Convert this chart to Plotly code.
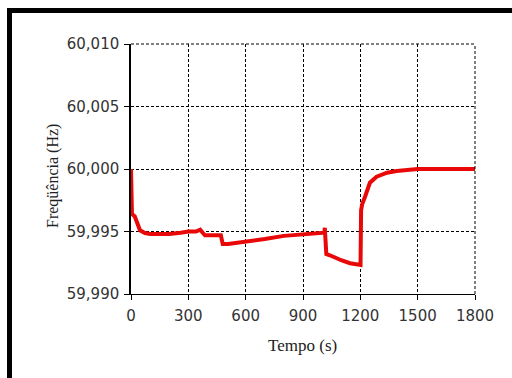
import plotly.graph_objects as go

# Data
tempo = [0, 0.5, 5, 20, 30, 47, 73, 100, 141, 200, 260, 300, 340, 362, 375, 387,
         470, 476, 480, 508, 560, 620, 700, 800, 900, 1012, 1014, 1018, 1022, 1040,
         1067, 1100, 1146, 1198, 1201, 1204, 1210, 1225, 1250, 1285, 1340, 1390,
         1450, 1500, 1800]
freq = [60.0000, 59.9966, 59.9964, 59.9962, 59.9957, 59.9951, 59.99488, 59.9948,
        59.9948, 59.9948, 59.9949, 59.9950, 59.9950, 59.99515, 59.9949, 59.9947,
        59.9947, 59.9942, 59.9940, 59.9940, 59.9941, 59.9942, 59.9944, 59.99465,
        59.9948, 59.9949, 59.9953, 59.99325, 59.9932, 59.9931, 59.99288, 59.9927,
        59.99246, 59.99232, 59.99232, 59.9967, 59.9972, 59.9978, 59.9989, 59.99938,
        59.9997, 59.99984, 59.99995, 60.0000, 60.0000]

x_ticks = [0, 300, 600, 900, 1200, 1500, 1800]
y_ticks = [59.990, 59.995, 60.000, 60.005, 60.010]
y_tick_text = ["59,990", "59,995", "60,000", "60,005", "60,010"]

W, H = 512, 378
L, R, T, B = 131, 475, 44, 294

fig = go.Figure()
fig.add_trace(go.Scatter(x=tempo, y=freq, mode="lines",
                         line=dict(color="rgb(232,8,8)", width=4),
                         showlegend=False, hoverinfo="skip"))

tickfont = dict(family="DejaVu Sans", size=15, color="#333")
fig.update_layout(
    width=W, height=H,
    margin=dict(l=L, r=W - R, t=T, b=H - B, pad=0),
    paper_bgcolor="white", plot_bgcolor="white",
    xaxis=dict(range=[0, 1800], tickvals=x_ticks, ticks="outside", ticklen=5,
               tickcolor="black", showline=True, linecolor="black", linewidth=1.2,
               showgrid=True, gridcolor="black", griddash="3px,2px", gridwidth=1,
               zeroline=False, tickfont=tickfont, ticklabelstandoff=3),
    yaxis=dict(range=[59.990, 60.010], tickvals=y_ticks, ticktext=y_tick_text,
               ticks="outside", ticklen=5, tickcolor="black",
               showline=True, linecolor="black", linewidth=1.5,
               showgrid=True, gridcolor="black", griddash="3px,2px", gridwidth=1,
               zeroline=False, tickfont=tickfont, ticklabelstandoff=2),
)

def px(xp):
    return (xp - L) / (R - L)

def py(yp):
    return (B - yp) / (B - T)

# dashed top and right borders of the plot area
fig.add_shape(type="line", xref="paper", yref="paper", x0=0, x1=1, y0=1, y1=1,
              line=dict(color="black", width=1, dash="3px,2px"))
fig.add_shape(type="line", xref="paper", yref="paper", x0=1, x1=1, y0=0, y1=1,
              line=dict(color="black", width=1, dash="3px,2px"))

# outer black frame (top and left)
fig.add_shape(type="rect", xref="paper", yref="paper",
              x0=px(7), x1=px(514), y0=py(13), y1=py(8),
              fillcolor="black", line=dict(width=0), layer="above")
fig.add_shape(type="rect", xref="paper", yref="paper",
              x0=px(7), x1=px(12), y0=py(380), y1=py(8),
              fillcolor="black", line=dict(width=0), layer="above")

fig.add_annotation(text="Tempo (s)", xref="paper", yref="paper",
                   x=px(302), y=py(345), showarrow=False,
                   xanchor="center", yanchor="middle",
                   font=dict(family="Liberation Serif", size=17, color="#222"))
fig.add_annotation(text="Freqüência (Hz)", xref="paper", yref="paper",
                   x=px(53), y=py(176), showarrow=False, textangle=-90,
                   xanchor="center", yanchor="middle",
                   font=dict(family="Liberation Serif", size=16, color="#222"))

fig.write_html("out.html")
